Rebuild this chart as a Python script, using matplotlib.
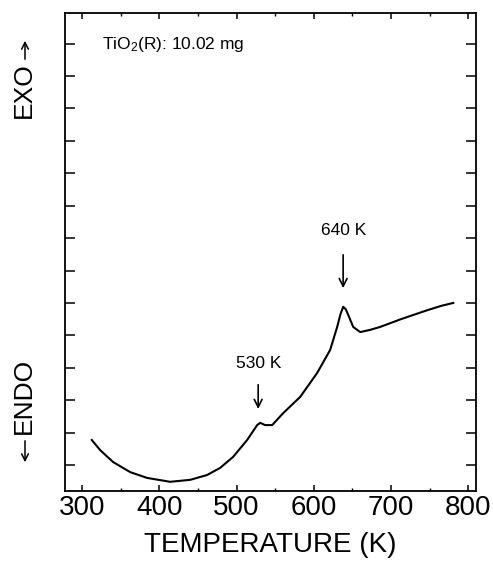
import matplotlib
matplotlib.use("Agg")
import matplotlib.pyplot as plt
from matplotlib.ticker import MultipleLocator

plt.rcParams["font.family"] = ["Liberation Sans", "DejaVu Sans"]
plt.rcParams["mathtext.default"] = "regular"

# DTA trace
temperature_k = [312.6, 323.3, 340.2, 362.2, 384.2, 414.0, 439.9, 461.9, 478.8,
                 495.6, 513.7, 526.7, 530.6, 537.0, 546.1, 560.4, 582.4, 604.4,
                 621.2, 630.3, 634.5, 638.1, 641.5, 644.6, 651.0, 660.1, 673.1,
                 686.0, 713.0, 745.0, 765.0, 780.6]
heat_flow = [1.77, 1.46, 1.09, 0.78, 0.60, 0.48, 0.54, 0.69, 0.91,
             1.25, 1.77, 2.23, 2.30, 2.23, 2.23, 2.60, 3.10, 3.84,
             4.55, 5.26, 5.65, 5.88, 5.80, 5.63, 5.26, 5.10, 5.17,
             5.26, 5.50, 5.76, 5.91, 6.00]

peak_labels = ["530 K", "640 K"]
peak_temps = [528, 638]
arrow_tops = [3.56, 7.57]
arrow_tips = [2.64, 6.37]
label_heights = [4.12, 8.25]

sample_label = "TiO$_2$(R): 10.02 mg"

fig = plt.figure(figsize=(4.93, 5.61), dpi=100)
ax = fig.add_axes([0.132, 0.125, 0.8335, 0.852])

ax.plot(temperature_k, heat_flow, color="black", linewidth=1.5)

for label, t, top, tip, ht in zip(peak_labels, peak_temps, arrow_tops, arrow_tips, label_heights):
    ax.annotate("", xy=(t, tip), xytext=(t, top),
                arrowprops=dict(arrowstyle="->", color="black", lw=1.2,
                                mutation_scale=14))
    ax.text(t + 1, ht, label, ha="center", va="center", fontsize=12.5)

ax.text(326, 13.96, sample_label, ha="left", va="center", fontsize=12.5)

ax.set_xlim(278, 810)
ax.set_ylim(0.2, 14.95)
ax.xaxis.set_major_locator(MultipleLocator(100))
ax.xaxis.set_minor_locator(MultipleLocator(50))
ax.yaxis.set_major_locator(MultipleLocator(1))
ax.tick_params(axis="x", which="major", direction="in", length=4, width=1.1,
               top=True, labelsize=20, pad=3)
ax.tick_params(axis="x", which="minor", direction="in", length=2.5, width=1.0, top=True)
ax.tick_params(axis="y", which="major", direction="in", length=7, width=1.1,
               right=True, labelleft=False)
for spine in ax.spines.values():
    spine.set_linewidth(1.3)

ax.set_xlabel("TEMPERATURE (K)", fontsize=20, labelpad=8)

# EXO / ENDO side labels with their arrows
fig.text(24 / 493, 1 - 90 / 561, "EXO", rotation=90, ha="center", va="center", fontsize=19)
fig.text(24 / 493, 1 - 396 / 561, "ENDO", rotation=90, ha="center", va="center", fontsize=19)
arrow_style = dict(arrowstyle="->", color="black", lw=1.1, mutation_scale=12)
ax.annotate("", xy=(25 / 493, 1 - 38 / 561), xytext=(25 / 493, 1 - 62 / 561),
            xycoords="figure fraction", arrowprops=arrow_style, annotation_clip=False)
ax.annotate("", xy=(25 / 493, 1 - 465 / 561), xytext=(25 / 493, 1 - 438 / 561),
            xycoords="figure fraction", arrowprops=arrow_style, annotation_clip=False)

fig.savefig("out.png", dpi=100)
